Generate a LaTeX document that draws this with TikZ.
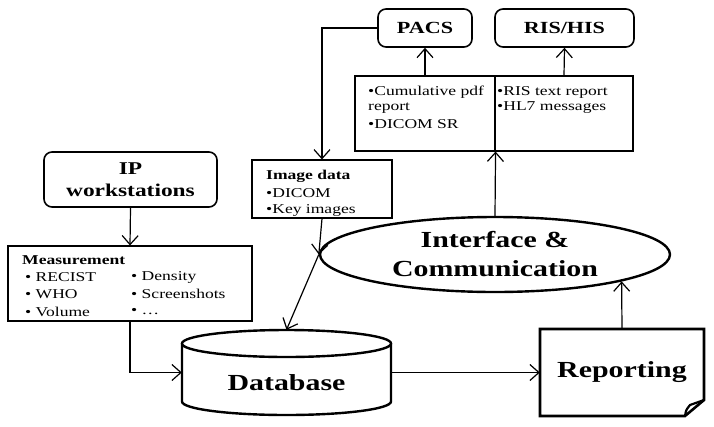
\documentclass[tikz,border=0pt]{standalone}
\usepackage{fontspec}
\setmainfont{Liberation Serif}[FakeStretch=1.3]
\usetikzlibrary{shapes.geometric,arrows.meta,calc}
\begin{document}
\begin{tikzpicture}[x=1pt,y=-1pt,
  rbox/.style={draw, rounded corners=8pt, line width=1.6pt, inner sep=0pt,
    font=\bfseries\fontsize{17}{21}\selectfont},
  tbox/.style={draw, line width=1.1pt, inner sep=0pt},
  txt/.style={anchor=west, inner sep=0pt, font=\fontsize{13.5}{15}\selectfont},
  btxt/.style={anchor=west, inner sep=0pt, font=\bfseries\fontsize{13.5}{15}\selectfont},
  arr/.style={-{Straight Barb[length=9pt,width=16pt]}, line width=1.2pt},
  big/.style={font=\bfseries\fontsize{23}{29}\selectfont, align=center}
]
\useasboundingbox (0,0) rectangle (714,426);

% top boxes
\node[rbox, minimum width=94pt, minimum height=38pt] (pacs) at (425,28) {PACS};
\node[rbox, minimum width=139pt, minimum height=38pt] (ris) at (564.5,28) {RIS/HIS};

% output boxes
\node[tbox, minimum width=140pt, minimum height=75pt] (outL) at (425,113.5) {};
\node[tbox, minimum width=138pt, minimum height=75pt] (outR) at (564,113.5) {};
\node[txt] (o1) at (368,92) {•Cumulative pdf};
\node[txt] (o2) at (368,108) {report};
\node[txt] (o3) at (368,124) {•DICOM SR};
\node[txt] (o4) at (497,92) {•RIS text report};
\node[txt] (o5) at (497,108) {•HL7 messages};

% IP workstations
\node[rbox, minimum width=173pt, minimum height=55pt, align=center,
  font=\bfseries\fontsize{18}{22}\selectfont] (ip) at (130.5,179.5) {IP\\workstations};

% image data
\node[tbox, minimum width=140pt, minimum height=58pt] (img) at (322,189) {};
\node[btxt] (i1) at (266,176) {Image data};
\node[txt] (i2) at (266,193) {•DICOM};
\node[txt] (i3) at (266,210) {•Key images};

% measurement
\node[tbox, minimum width=244pt, minimum height=75pt] (meas) at (130,283.5) {};
\node[btxt] (m0) at (22,260) {Measurement};
\node[txt] (m1) at (25,277) {• RECIST};
\node[txt] (m2) at (25,294) {• WHO};
\node[txt] (m3) at (25,312) {• Volume};
\node[txt] (m4) at (131,277) {• Density};
\node[txt] (m5) at (131,294) {• Screenshots};
\node[txt] (m6) at (131,312) {• …};

% interface ellipse
\node[ellipse, draw, line width=2.4pt, minimum width=350pt, minimum height=75pt,
  inner sep=0pt, big] (iface) at (495,254.5) {Interface \&\\Communication};

% database cylinder
\node[minimum width=209pt, minimum height=85pt, inner sep=0pt] (db) at (286.5,372.5) {};
\draw[line width=2.4pt] (182,343.5) -- (182,401.5)
  arc[start angle=180, end angle=0, x radius=104.5, y radius=13.5]
  -- (391,343.5);
\draw[line width=2.4pt] (286.5,343.5) ellipse [x radius=104.5, y radius=13.5];
\node[big, inner sep=0pt] (dbt) at (286.5,383) {Database};

% reporting
\node[minimum width=164pt, minimum height=87pt, inner sep=0pt, big] (rep) at (622,372.5) {Reporting};
\draw[line width=2.6pt, line join=miter] (540,329) -- (704,329) -- (704,400) -- (685,416) -- (540,416) -- cycle;
\draw[line width=2.2pt] (685,416) .. controls (686,410) .. (690,405) -- (704,400);

% connectors
\draw[arr] (pacs.west) -| (img.north);
\draw[arr] (outL.north) -- (pacs.south);
\draw[arr] (outR.north) -- (ris.south);
\draw[arr] (iface.north) -- (outL.south east);
\draw[arr] (img.south) -- (iface.west);
\draw[arr] (iface.west) -- (db.north);
\draw[arr] (ip.south) -- (meas.north);
\draw[arr] (meas.south) |- (db.west);
\draw[arr] (db.east) -- (rep.west);
\draw[arr] (rep.north) -- (iface.-12.4);
\end{tikzpicture}
\end{document}
